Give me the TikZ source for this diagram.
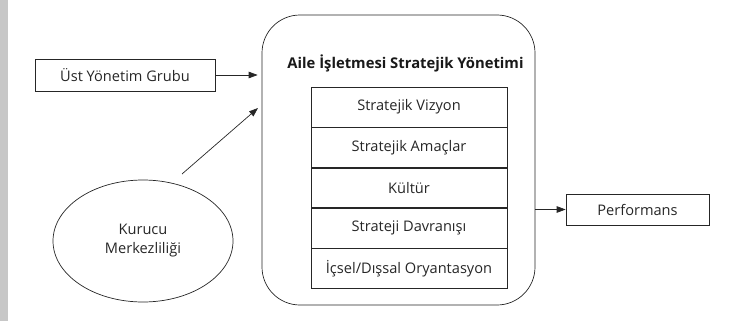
\documentclass[tikz,border=0pt]{standalone}
\usepackage{fontspec}
\setmainfont{Open Sans}
\usetikzlibrary{shapes.geometric,arrows.meta,calc}
\begin{document}
\begin{tikzpicture}[x=1pt,y=-1pt,
  line/.style={draw=black!85,line width=0.7pt},
  arr/.style={line,-{Triangle[length=9pt,width=6.5pt]}},
  boxnode/.style={line,rectangle,inner sep=0pt,font=\fontsize{14.6}{19}\selectfont,text=black!85},
  rowbox/.style={boxnode,minimum width=196pt,minimum height=39.6pt,anchor=north}]
\useasboundingbox (0,0) rectangle (735,321);
\fill[black!22] (0,0) rectangle (8,321);
% left box
\node[boxnode,minimum width=180pt,minimum height=32pt] (ust) at (125,75) {Üst Yönetim Grubu};
% ellipse
\node[boxnode,ellipse,minimum width=180pt,minimum height=122pt,align=center] (kurucu) at (143,241) {Kurucu\\Merkezliliği};
% main rounded box
\node[line,rectangle,rounded corners=38pt,minimum width=273pt,minimum height=290pt,inner sep=0pt] (main) at (398.5,160) {};
\node[font=\fontsize{14.8}{18}\selectfont\bfseries,text=black!90,inner sep=0pt] (title) at (405.5,63) {Aile İşletmesi Stratejik Yönetimi};
% rows
\node[rowbox] (r1) at (409,87) {Stratejik Vizyon};
\node[rowbox] (r2) at (r1.south) {Stratejik Amaçlar};
\node[rowbox] (r3) at (r2.south) {Kültür};
\node[rowbox] (r4) at (r3.south) {Strateji Davranışı};
\node[rowbox] (r5) at (r4.south) {İçsel/Dışsal Oryantasyon};
% performans
\node[boxnode,minimum width=143pt,minimum height=31pt] (perf) at (637.5,209.5) {Performans};
% arrows
\draw[arr,shorten >=4pt] (ust.east) -- (ust.east -| main.west);
\coordinate (ks) at (182,174);
\coordinate (ke) at (258,108);
\draw[arr] (ks) -- (ke);
\draw[arr] (perf.west -| main.east) -- (perf.west);
\end{tikzpicture}
\end{document}
